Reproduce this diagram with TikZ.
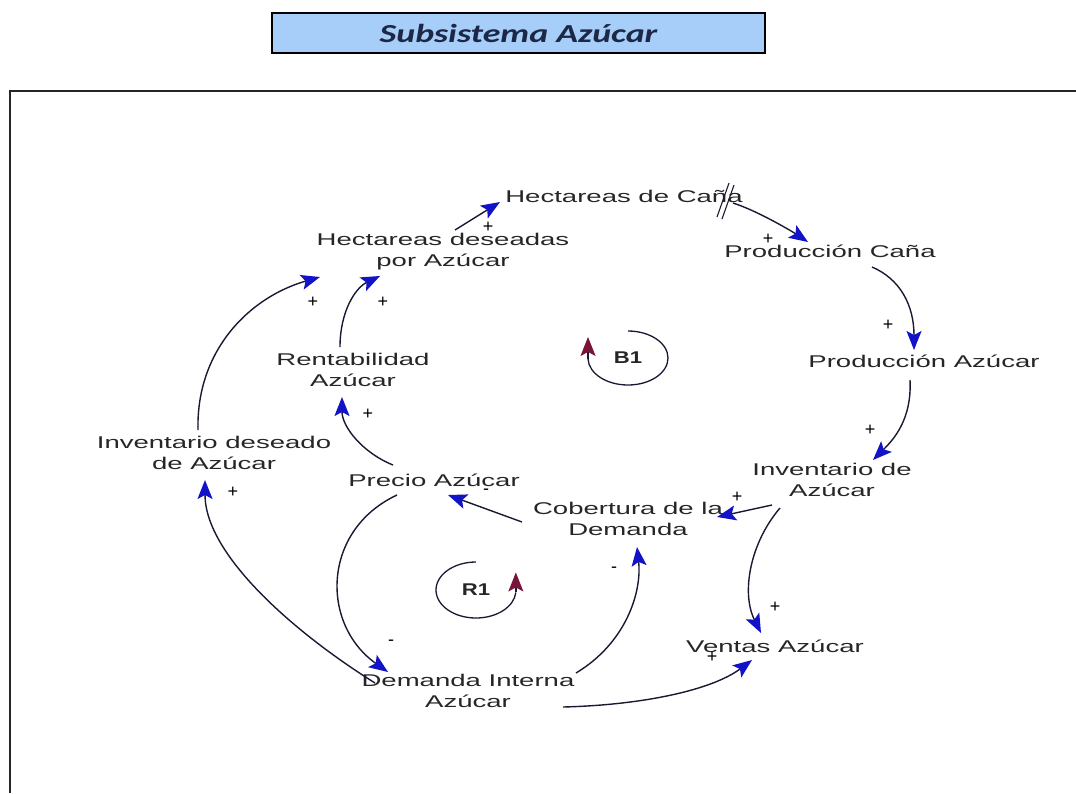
\documentclass[tikz,border=0pt]{standalone}
\usepackage{fontspec}
\setmainfont{Liberation Sans}
\newfontfamily\titlefont{Carlito}
\usetikzlibrary{arrows.meta}
\definecolor{titlefill}{RGB}{166,206,248}
\definecolor{titletext}{RGB}{28,40,70}
\definecolor{arrowblue}{RGB}{18,18,200}
\definecolor{loopred}{RGB}{120,20,55}
\definecolor{linecol}{RGB}{25,25,50}
\newcommand\lbl[1]{\scalebox{1.62}[1]{\begin{tabular}{@{}c@{}}#1\end{tabular}}}
\begin{document}
\begin{tikzpicture}[x=1pt,y=-1pt,
  var/.style={inner sep=1pt, font=\fontsize{17}{21}\selectfont, text=black!85},
  sgn/.style={inner sep=0pt, font=\fontsize{18}{18}\selectfont, text=black},
  link/.style={draw=linecol, line width=1.4pt, -{Stealth[length=19pt,width=15pt,inset=4pt,color=arrowblue]}},
  loopline/.style={draw=linecol, line width=1.3pt},
  looptip/.style={draw=linecol, line width=1.3pt, -{Stealth[length=19pt,width=15pt,inset=4pt,color=loopred]}},
  looplbl/.style={inner sep=0pt, font=\fontsize{17}{17}\selectfont\bfseries, text=black!85},
  delaymark/.style={draw=linecol, line width=1.1pt}]
\useasboundingbox (0,0) rectangle (1076,793);

% frame
\draw[line width=2.2pt, black!85] (10,793) -- (10,91) -- (1076,91);

% title
\node[draw=black, line width=1.6pt, fill=titlefill, minimum width=493pt, minimum height=40pt, inner sep=0pt] (title) at (518.5,33)
  {\titlefont\fontsize{26}{26}\selectfont\bfseries\itshape\color{titletext}\scalebox{1.38}[1]{Subsistema Azúcar}};

% variables
\node[var] (hc) at (624,198) {\lbl{Hectareas de Caña}};
\node[var] (hd) at (443,252) {\lbl{Hectareas deseadas\\por Azúcar}};
\node[var] (pc) at (830,253) {\lbl{Producción Caña}};
\node[var] (pa) at (924,363) {\lbl{Producción Azúcar}};
\node[var] (ra) at (353,372) {\lbl{Rentabilidad\\Azúcar}};
\node[var] (id) at (214,455) {\lbl{Inventario deseado\\de Azúcar}};
\node[var] (pz) at (434,482) {\lbl{Precio Azúcar}};
\node[var] (ia) at (832,482) {\lbl{Inventario de\\Azúcar}};
\node[var] (cd) at (628,521) {\lbl{Cobertura de la\\Demanda}};
\node[var] (va) at (775,648) {\lbl{Ventas Azúcar}};
\node[var] (di) at (468,693) {\lbl{Demanda Interna\\Azúcar}};

% loops
\node[looplbl] (b1) at (628,358) {\scalebox{1.3}[1]{B1}};
\draw[loopline] ([shift={(0,-27)}]b1.center) arc[start angle=-90, end angle=178, x radius=40, y radius=27] coordinate (b1e);
\draw[looptip] (b1e) -- ++(0,-22);
\node[looplbl] (r1) at (476,590) {\scalebox{1.3}[1]{R1}};
\draw[loopline] ([shift={(0,-28)}]r1.center) arc[start angle=-90, end angle=-355, x radius=40, y radius=28] coordinate (r1e);
\draw[looptip] (r1e) -- ++(0,-20);

% connectors
\draw[link] ([shift={(12,-22)}]hd.center) -- ([shift={(-124,4)}]hc.center);
\draw[link] ([shift={(109,5)}]hc.center) .. controls +(25,8) and +(-15,-10) .. ([shift={(-22,-11)}]pc.center);
\draw[delaymark] ([shift={(105,-15)}]hc.center) -- ++(-12,34);
\draw[delaymark] ([shift={(110,-13)}]hc.center) -- ++(-12,34);
\draw[link] ([shift={(42,14)}]pc.center) .. controls +(28,12) and +(0,-45) .. ([shift={(-10,-13)}]pa.center);
\draw[link] ([shift={(-14,17)}]pa.center) .. controls +(2,40) and +(20,-20) .. ([shift={(41,-22)}]ia.center);
\draw[link] ([shift={(-60,23)}]ia.center) -- ([shift={(89,-4)}]cd.center);
\draw[link] ([shift={(-52,26)}]ia.center) .. controls +(-30,35) and +(-20,-40) .. ([shift={(-14,-15)}]va.center);
\draw[link] ([shift={(-106,1)}]cd.center) -- ([shift={(14,13)}]pz.center);
\draw[link] ([shift={(-41,-17)}]pz.center) .. controls +(-30,-12) and +(0,30) .. ([shift={(-11,25)}]ra.center);
\draw[link] ([shift={(-13,-25)}]ra.center) .. controls +(0,-35) and +(-25,12) .. ([shift={(-63,24)}]hd.center);
\draw[link] ([shift={(-16,-25)}]id.center) .. controls +(-2,-80) and +(-70,20) .. ([shift={(-123,25)}]hd.center);
\draw[link] ([shift={(-93,-10)}]di.center) .. controls +(-80,-50) and +(0,75) .. ([shift={(-9,25)}]id.center);
\draw[link] ([shift={(-37,13)}]pz.center) .. controls +(-75,35) and +(-68,-48) .. ([shift={(-80,-21)}]di.center);
\draw[link] ([shift={(108,-20)}]di.center) .. controls +(50,-30) and +(5,45) .. ([shift={(9,26)}]cd.center);
\draw[link] ([shift={(95,14)}]di.center) .. controls +(80,-2) and +(-40,30) .. ([shift={(-23,12)}]va.center);

% polarity signs
\node[sgn] (s1) at (488,227) {+};
\node[sgn] (s2) at (768,239) {+};
\node[sgn] (s3) at (888,325) {+};
\node[sgn] (s4) at (870,430) {+};
\node[sgn] (s5) at (737,497) {+};
\node[sgn] (s6) at (775,607) {+};
\node[sgn] (s7) at (486,492) {-};
\node[sgn] (s8) at (368,414) {+};
\node[sgn] (s9) at (383,302) {+};
\node[sgn] (s10) at (313,302) {+};
\node[sgn] (s11) at (233,492) {+};
\node[sgn] (s12) at (391,643) {-};
\node[sgn] (s13) at (614,570) {-};
\node[sgn] (s14) at (712,657) {+};
\end{tikzpicture}
\end{document}
